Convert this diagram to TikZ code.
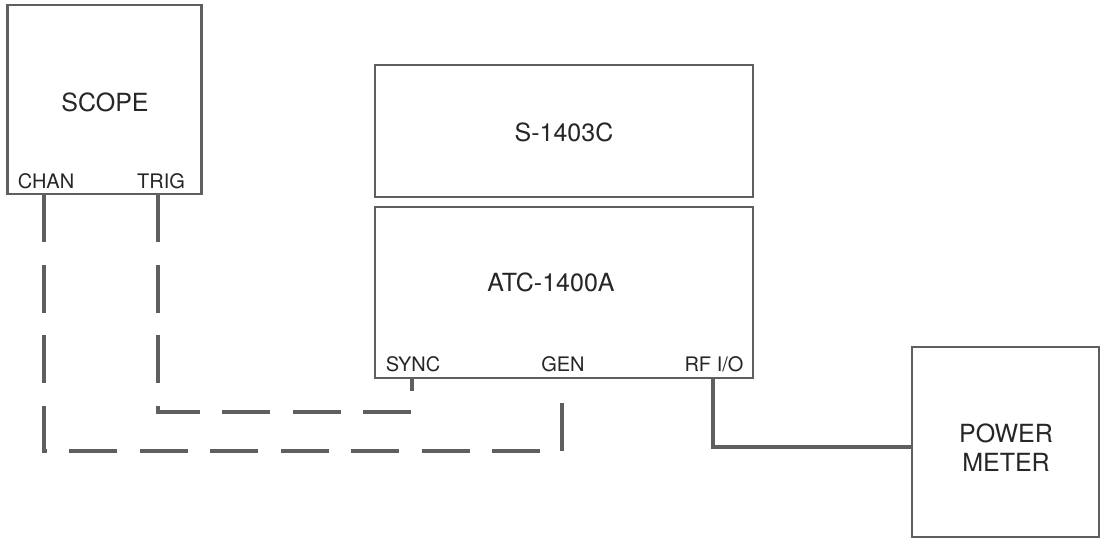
\documentclass[tikz,border=0pt]{standalone}
\usepackage{fontspec}
\setmainfont{TeX Gyre Heros}
\definecolor{ink}{RGB}{95,95,95}
\begin{document}
\begin{tikzpicture}[x=1pt,y=-1pt,
  box/.style={draw=ink,line width=2.6pt,inner sep=0pt,fill=white},
  big/.style={font=\fontsize{25}{29}\selectfont,text=black!85,inner sep=0pt,align=center},
  small/.style={font=\fontsize{20}{22}\selectfont,text=black!85,inner sep=0pt},
  cable/.style={draw=ink,line width=4pt,line cap=butt,line join=miter},
  dcable/.style={cable,dash pattern=on 48pt off 22.5pt}]
\useasboundingbox (0,0) rectangle (1101,541);
% boxes
\node[box,minimum width=194pt,minimum height=189pt] (scope) at (104.5,99.5) {};
\node[box,minimum width=378pt,minimum height=132pt] (s1403) at (564,131) {};
\node[box,minimum width=378pt,minimum height=171pt] (atc) at (564,292.5) {};
\node[box,minimum width=187pt,minimum height=190pt] (pm) at (1005.5,442) {};
% labels
\node[big] (scopet) at (105,102) {SCOPE};
\node[big] (s1403t) at (564,132) {S-1403C};
\node[big] (atct) at (551,282) {ATC-1400A};
\node[big] (pmt) at (1006,448) {POWER\\METER};
\node[small] (chan) at (46,181) {CHAN};
\node[small] (trig) at (161,181) {TRIG};
\node[small] (sync) at (413,364) {SYNC};
\node[small] (gen) at (563,364) {GEN};
\node[small] (rfio) at (714,364) {RF I/O};
% ports
\coordinate (chanp) at (44,194);
\coordinate (trigp) at (158,194);
\coordinate (syncp) at (412,378);
\coordinate (genp) at (562,402);
\coordinate (rfp) at (713,378);
% connectors
\draw[dcable] (chanp) |- (genp |- 0,451) -- (genp);
\draw[dcable] (trigp) |- (syncp |- 0,412) -- (syncp);
\draw[cable] (rfp) |- (pm.west |- 0,447);
\end{tikzpicture}
\end{document}
